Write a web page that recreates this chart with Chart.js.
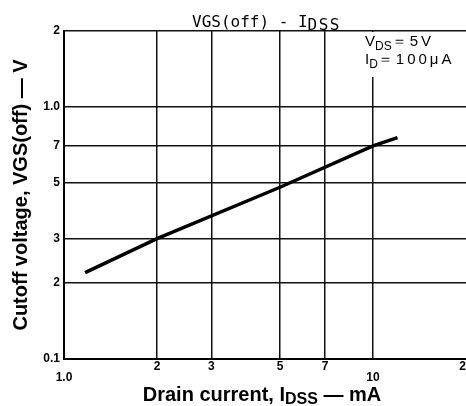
<!DOCTYPE html>
<html>
<head>
<meta charset="utf-8">
<script src="https://cdn.jsdelivr.net/npm/chart.js@4.4.0/dist/chart.umd.min.js"></script>
<style>
  html, body { margin: 0; padding: 0; background: #fff; }
  #wrap { width: 466px; height: 406px; }
</style>
</head>
<body>
<div id="wrap"><canvas id="chart" width="466" height="406"></canvas></div>
<script>
// VGS(off) vs IDSS
const idss = [1.17, 2, 5, 10, 12];             // mA
const vgsOff = [0.22, 0.3, 0.48, 0.7, 0.755];  // V

const xTicks = [1, 2, 3, 5, 7, 10, 20];
const xTickLabels = ['1.0', '2', '3', '5', '7', '10', '20'];
const xLowLabels = ['1.0', '10'];   // printed one line lower on the sheet
const yTicks = [0.1, 0.2, 0.3, 0.5, 0.7, 1, 2];
const yTickLabels = ['0.1', '2', '3', '5', '7', '1.0', '2'];

const SANS = '"Liberation Sans", Arial, sans-serif';
const MONO = '"DejaVu Sans Mono", monospace';

function drawRich(ctx, parts, x, y, align) {
    let total = 0;
    parts.forEach(p => {
        ctx.font = p.font;
        ctx.letterSpacing = p.ls || '0px';
        total += ctx.measureText(p.text).width;
    });
    let cx = align === 'center' ? x - total / 2 : x;
    parts.forEach(p => {
        ctx.font = p.font;
        ctx.letterSpacing = p.ls || '0px';
        ctx.fillText(p.text, cx, y + (p.dy || 0));
        cx += ctx.measureText(p.text).width;
    });
    ctx.letterSpacing = '0px';
}

// title, x-axis title and the test-condition note (they need subscripts)
const extraText = {
    id: 'extraText',
    afterDraw(chart) {
        const ctx = chart.ctx;
        ctx.save();
        ctx.fillStyle = '#000';
        ctx.textBaseline = 'alphabetic';

        drawRich(ctx, [
            { text: 'VGS(off) - I', font: '16px ' + MONO },
            { text: 'DSS', font: '16px ' + MONO, dy: 3, ls: '1.5px' }
        ], 192, 27, 'left');

        const bold = 'bold 20px ' + SANS;
        const boldSub = 'bold 16px ' + SANS;
        drawRich(ctx, [
            { text: 'Drain current, I', font: bold },
            { text: 'DSS', font: boldSub, dy: 3 },
            { text: ' \u2014 mA', font: bold }
        ], 262, 401, 'center');

        // white patch behind the note hides the grid there
        ctx.fillStyle = '#fff';
        ctx.fillRect(361, 32, 105, 45);
        ctx.fillStyle = '#000';
        const f = '15px ' + SANS;
        const fs = '12px ' + SANS;
        drawRich(ctx, [
            { text: 'V', font: f },
            { text: 'DS', font: fs, dy: 4 },
            { text: '\uff1d5V', font: f, ls: '3px' }
        ], 365, 46, 'left');
        drawRich(ctx, [
            { text: 'I', font: f },
            { text: 'D', font: fs, dy: 4 },
            { text: '\uff1d100\u03bcA', font: f, ls: '3px' }
        ], 365, 64, 'left');
        ctx.restore();
    }
};

new Chart(document.getElementById('chart'), {
    type: 'line',
    data: {
        datasets: [{
            data: idss.map((v, i) => ({ x: v, y: vgsOff[i] })),
            borderColor: '#000',
            borderWidth: 3.5,
            pointRadius: 0,
            tension: 0,
            fill: false
        }]
    },
    options: {
        responsive: false,
        animation: false,
        devicePixelRatio: 1,
        layout: { padding: { top: 31, right: 0, bottom: 0, left: 0 } },
        plugins: { legend: { display: false }, tooltip: { enabled: false } },
        scales: {
            x: {
                type: 'logarithmic',
                position: 'bottom',
                min: 1,
                max: 20,
                afterBuildTicks: s => { s.ticks = xTicks.map(v => ({ value: v })); },
                afterFit: s => { s.height = 47; s.paddingLeft = 0; s.paddingRight = 0; },
                grid: {
                    // the 20 mA line falls just outside the cropped sheet
                    color: c => (c.tick && c.tick.value === 20 ? 'rgba(0,0,0,0)' : '#111'),
                    lineWidth: 1.5,
                    drawTicks: false
                },
                border: { display: true, color: '#000', width: 2 },
                ticks: {
                    autoSkip: false,
                    maxRotation: 0,
                    padding: 2,
                    color: '#000',
                    font: { family: SANS, size: 12, weight: 'bold', lineHeight: 0.95 },
                    callback: (v, i) => {
                        const lab = xTickLabels[i];
                        return xLowLabels.includes(lab) ? ['', lab] : lab;
                    }
                }
            },
            y: {
                type: 'logarithmic',
                position: 'left',
                min: 0.1,
                max: 2,
                afterBuildTicks: s => { s.ticks = yTicks.map(v => ({ value: v })); },
                afterFit: s => { s.width = 64; },
                grid: { color: '#111', lineWidth: 1.5, drawTicks: false },
                border: { display: true, color: '#000', width: 2 },
                ticks: {
                    autoSkip: false,
                    padding: 4,
                    color: '#000',
                    font: { family: SANS, size: 12, weight: 'bold' },
                    callback: (v, i) => yTickLabels[i]
                },
                title: {
                    display: true,
                    text: 'Cutoff voltage, VGS(off) \u2014 V',
                    color: '#000',
                    font: { family: SANS, size: 20, weight: 'bold' },
                    padding: { top: 9, bottom: 0 }
                }
            }
        }
    },
    plugins: [extraText]
});
</script>
</body>
</html>
